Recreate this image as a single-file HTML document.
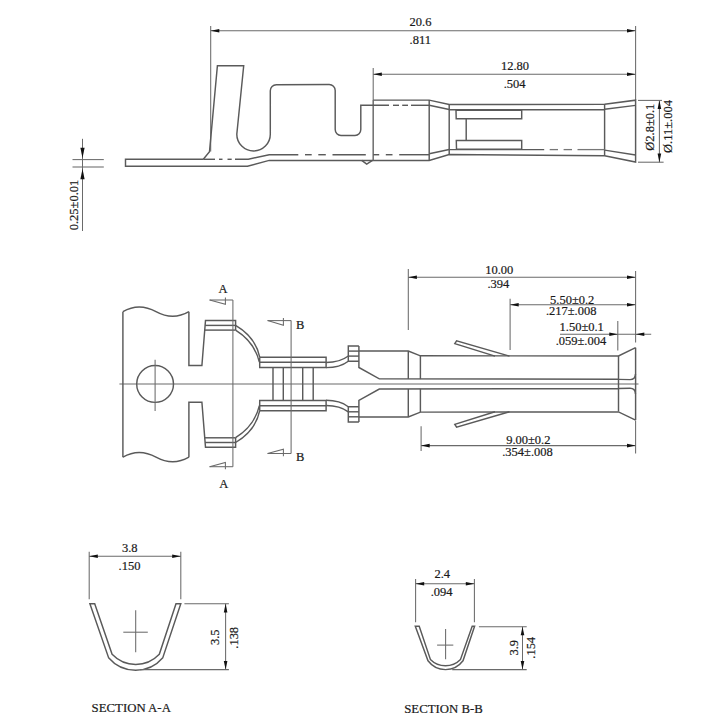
<!DOCTYPE html>
<html><head><meta charset="utf-8"><style>
html,body{margin:0;padding:0;background:#fff;width:720px;height:720px;overflow:hidden}
svg{display:block}
text{font-family:"Liberation Serif",serif;fill:#1a1a1a;stroke:#1a1a1a;stroke-width:0.2}
</style></head><body>
<svg width="720" height="720" viewBox="0 0 720 720">
<rect width="720" height="720" fill="#fff"/>
<line x1="210.7" y1="26" x2="210.7" y2="151.5" stroke="#6a6a6a" stroke-width="1.05" fill="none" />
<line x1="635.6" y1="26" x2="635.6" y2="100" stroke="#6a6a6a" stroke-width="1.05" fill="none" />
<line x1="210.7" y1="30.7" x2="635.6" y2="30.7" stroke="#6a6a6a" stroke-width="1.05" fill="none" />
<path d="M210.70,30.70 L219.30,28.90 L219.30,32.50 Z" fill="#111" stroke="none"/>
<path d="M635.60,30.70 L627.00,28.90 L627.00,32.50 Z" fill="#111" stroke="none"/>
<text transform="translate(420.5,26.3) scale(1,1.05)" text-anchor="middle" font-size="12.5">20.6</text>
<text transform="translate(420.2,44.2) scale(1,1.05)" text-anchor="middle" font-size="12.5">.811</text>
<line x1="373.2" y1="68" x2="373.2" y2="160.5" stroke="#6a6a6a" stroke-width="1.05" fill="none" />
<line x1="373.2" y1="74.2" x2="635.6" y2="74.2" stroke="#6a6a6a" stroke-width="1.05" fill="none" />
<path d="M373.20,74.20 L381.80,72.40 L381.80,76.00 Z" fill="#111" stroke="none"/>
<path d="M635.60,74.20 L627.00,72.40 L627.00,76.00 Z" fill="#111" stroke="none"/>
<text transform="translate(515,70) scale(1,1.05)" text-anchor="middle" font-size="12.5">12.80</text>
<text transform="translate(514.6,88) scale(1,1.05)" text-anchor="middle" font-size="12.5">.504</text>
<line x1="638" y1="100.4" x2="662" y2="100.4" stroke="#6a6a6a" stroke-width="1.05" fill="none" />
<line x1="638" y1="162.2" x2="663.6" y2="162.2" stroke="#6a6a6a" stroke-width="1.05" fill="none" />
<line x1="659.4" y1="100.4" x2="659.4" y2="162.2" stroke="#6a6a6a" stroke-width="1.05" fill="none" />
<path d="M659.40,100.40 L657.60,109.00 L661.20,109.00 Z" fill="#111" stroke="none"/>
<path d="M659.40,162.20 L657.60,153.60 L661.20,153.60 Z" fill="#111" stroke="none"/>
<text transform="translate(650.0,127.2) rotate(-90) translate(0,4.25) scale(1,1.05)" text-anchor="middle" font-size="12.5">&#216;2.8&#177;0.1</text>
<text transform="translate(667.5,126.5) rotate(-90) translate(0,4.25) scale(1,1.05)" text-anchor="middle" font-size="12.5">&#216;.11&#177;.004</text>
<line x1="82.5" y1="138.8" x2="82.5" y2="231" stroke="#6a6a6a" stroke-width="1.05" fill="none" />
<path d="M82.50,158.20 L80.40,147.80 L84.60,147.80 Z" fill="#111" stroke="none"/>
<path d="M82.50,168.80 L80.40,179.20 L84.60,179.20 Z" fill="#111" stroke="none"/>
<line x1="72.5" y1="159.6" x2="103.8" y2="159.6" stroke="#6a6a6a" stroke-width="1.05" fill="none" />
<line x1="72.5" y1="167.0" x2="103.8" y2="167.0" stroke="#6a6a6a" stroke-width="1.05" fill="none" />
<text transform="translate(74.0,205) rotate(-90) translate(0,4.25) scale(1,1.05)" text-anchor="middle" font-size="12.5">0.25&#177;0.01</text>
<path d="M203.3,159.3 L125.5,159.3 L125.5,166.2 L247.5,166.2 L269.2,160.4 L429.2,160.4 L449.2,154.5 L604.6,155.7 L635.6,162 L635.6,100.2 L604.6,104.3 L449.2,104.5 L429.2,100.1 L373.2,100.1" stroke="#5a5a5a" stroke-width="1.45" fill="none"/>
<line x1="373.2" y1="100.1" x2="373.2" y2="160.4" stroke="#6a6a6a" stroke-width="1.05" fill="none" />
<path d="M203.3,159.3 L209.5,151.6 L217.4,65.8 L243.7,65.8 L236.8,134.2 A16.7,16.7 0 0 0 270.3,134.2 L270.3,90.7 A6,6 0 0 1 276.3,84.7 L329.2,84.5 A6,6 0 0 1 335.2,90.5 L335.2,129.6 A5.8,5.8 0 0 0 341,135.4 L355,135.4 A5.8,5.8 0 0 0 360.8,129.6 L360.8,105.3 L389,105.3" stroke="#5a5a5a" stroke-width="1.45" fill="none"/>
<line x1="411" y1="105.3" x2="429.2" y2="105.3" stroke="#5a5a5a" stroke-width="1.45" fill="none" />
<line x1="393" y1="105.3" x2="399" y2="105.3" stroke="#5a5a5a" stroke-width="1.45" fill="none" />
<line x1="402.2" y1="105.3" x2="408" y2="105.3" stroke="#5a5a5a" stroke-width="1.45" fill="none" />
<line x1="203.3" y1="159.3" x2="215" y2="159.3" stroke="#5a5a5a" stroke-width="1.45" fill="none" />
<line x1="219" y1="159.3" x2="222.5" y2="159.3" stroke="#5a5a5a" stroke-width="1.45" fill="none" />
<line x1="227.5" y1="159.3" x2="231.7" y2="159.3" stroke="#5a5a5a" stroke-width="1.45" fill="none" />
<path d="M235,159.3 L248.3,159.3 L269.2,154.7 L298.3,154.7" stroke="#5a5a5a" stroke-width="1.45" fill="none"/>
<line x1="305" y1="154.7" x2="311.7" y2="154.7" stroke="#5a5a5a" stroke-width="1.45" fill="none" />
<line x1="318.3" y1="154.7" x2="325.8" y2="154.7" stroke="#5a5a5a" stroke-width="1.45" fill="none" />
<line x1="332.5" y1="154.7" x2="365.8" y2="154.7" stroke="#5a5a5a" stroke-width="1.45" fill="none" />
<line x1="373.3" y1="154.7" x2="379.2" y2="154.7" stroke="#5a5a5a" stroke-width="1.45" fill="none" />
<line x1="385.8" y1="154.7" x2="392.5" y2="154.7" stroke="#5a5a5a" stroke-width="1.45" fill="none" />
<line x1="399.2" y1="154.7" x2="429.2" y2="154.7" stroke="#5a5a5a" stroke-width="1.45" fill="none" />
<line x1="429.2" y1="100.1" x2="429.2" y2="160.4" stroke="#5a5a5a" stroke-width="1.45" fill="none" />
<line x1="449.2" y1="104.5" x2="449.2" y2="154.5" stroke="#5a5a5a" stroke-width="1.45" fill="none" />
<line x1="604.6" y1="104.3" x2="604.6" y2="155.7" stroke="#5a5a5a" stroke-width="1.45" fill="none" />
<line x1="429.2" y1="105.3" x2="449.2" y2="109.5" stroke="#5a5a5a" stroke-width="1.45" fill="none" />
<line x1="449.2" y1="109.7" x2="604.6" y2="109.7" stroke="#5a5a5a" stroke-width="1.45" fill="none" />
<line x1="604.6" y1="109.2" x2="635.6" y2="105.4" stroke="#5a5a5a" stroke-width="1.45" fill="none" />
<line x1="429.2" y1="153.8" x2="449.2" y2="149.5" stroke="#5a5a5a" stroke-width="1.45" fill="none" />
<line x1="449.2" y1="149.6" x2="544.2" y2="149.6" stroke="#5a5a5a" stroke-width="1.45" fill="none" />
<line x1="549.7" y1="149.6" x2="558" y2="149.6" stroke="#777" stroke-width="1.3" fill="none" />
<line x1="563.6" y1="149.6" x2="572" y2="149.6" stroke="#777" stroke-width="1.3" fill="none" />
<line x1="577.5" y1="149.6" x2="604.6" y2="149.6" stroke="#777" stroke-width="1.3" fill="none" />
<line x1="604.6" y1="150.1" x2="635.6" y2="155" stroke="#5a5a5a" stroke-width="1.45" fill="none" />
<path d="M521.7,110.3 L456.0,110.3 L456.2,118.7 L521.7,118.7 Z" stroke="#5a5a5a" stroke-width="1.45" fill="none"/>
<path d="M521.7,140.5 L456.3,140.5 L456.5,149.2 L521.7,149.2 Z" stroke="#5a5a5a" stroke-width="1.45" fill="none"/>
<line x1="466.2" y1="118.7" x2="466.2" y2="140.5" stroke="#5a5a5a" stroke-width="1.45" fill="none" />
<path d="M361.7,160.4 L366.7,164.2 L372.5,160.4" stroke="#5a5a5a" stroke-width="1.45" fill="none"/>
<line x1="408.3" y1="269" x2="408.3" y2="330" stroke="#6a6a6a" stroke-width="1.05" fill="none" />
<line x1="635.6" y1="271" x2="635.6" y2="342.5" stroke="#6a6a6a" stroke-width="1.05" fill="none" />
<line x1="408.3" y1="277.2" x2="635.6" y2="277.2" stroke="#6a6a6a" stroke-width="1.05" fill="none" />
<path d="M408.30,277.20 L416.90,275.40 L416.90,279.00 Z" fill="#111" stroke="none"/>
<path d="M635.60,277.20 L627.00,275.40 L627.00,279.00 Z" fill="#111" stroke="none"/>
<text transform="translate(499.3,273.7) scale(1,1.05)" text-anchor="middle" font-size="12.5">10.00</text>
<text transform="translate(498.4,288.3) scale(1,1.05)" text-anchor="middle" font-size="12.5">.394</text>
<line x1="510.1" y1="298.7" x2="510.1" y2="350" stroke="#6a6a6a" stroke-width="1.05" fill="none" />
<line x1="510.1" y1="304.8" x2="635.6" y2="304.8" stroke="#6a6a6a" stroke-width="1.05" fill="none" />
<path d="M510.10,304.80 L518.70,303.00 L518.70,306.60 Z" fill="#111" stroke="none"/>
<path d="M635.60,304.80 L627.00,303.00 L627.00,306.60 Z" fill="#111" stroke="none"/>
<text transform="translate(572.2,303.6) scale(1,1.05)" text-anchor="middle" font-size="12.5">5.50&#177;0.2</text>
<text transform="translate(571.2,315.2) scale(1,1.05)" text-anchor="middle" font-size="12.5">.217&#177;.008</text>
<line x1="617.8" y1="321" x2="617.8" y2="350.5" stroke="#6a6a6a" stroke-width="1.05" fill="none" />
<line x1="560" y1="334.2" x2="651.2" y2="334.2" stroke="#6a6a6a" stroke-width="1.05" fill="none" />
<path d="M617.90,334.20 L609.30,332.40 L609.30,336.00 Z" fill="#111" stroke="none"/>
<path d="M635.70,334.20 L644.30,332.40 L644.30,336.00 Z" fill="#111" stroke="none"/>
<text transform="translate(581.7,331.2) scale(1,1.05)" text-anchor="middle" font-size="12.5">1.50&#177;0.1</text>
<text transform="translate(580.9,344.8) scale(1,1.05)" text-anchor="middle" font-size="12.5">.059&#177;.004</text>
<line x1="421.1" y1="426.2" x2="421.1" y2="451.1" stroke="#6a6a6a" stroke-width="1.05" fill="none" />
<line x1="635.6" y1="420.4" x2="635.6" y2="453.5" stroke="#6a6a6a" stroke-width="1.05" fill="none" />
<line x1="421.1" y1="445.6" x2="635.6" y2="445.6" stroke="#6a6a6a" stroke-width="1.05" fill="none" />
<path d="M421.10,445.60 L429.70,443.80 L429.70,447.40 Z" fill="#111" stroke="none"/>
<path d="M635.60,445.60 L627.00,443.80 L627.00,447.40 Z" fill="#111" stroke="none"/>
<text transform="translate(528.3,443.8) scale(1,1.05)" text-anchor="middle" font-size="12.5">9.00&#177;0.2</text>
<text transform="translate(527.5,455.6) scale(1,1.05)" text-anchor="middle" font-size="12.5">.354&#177;.008</text>
<line x1="119.4" y1="383.95" x2="638.5" y2="383.95" stroke="#6a6a6a" stroke-width="1.05" fill="none" />
<path d="M122.9,311.7 Q139,302.5 156,311.7 T188.9,311.7" stroke="#5a5a5a" stroke-width="1.45" fill="none"/>
<path d="M122.9,457.2 Q139,448.0 156,457.2 T188.9,457.2" stroke="#5a5a5a" stroke-width="1.45" fill="none"/>
<line x1="122.9" y1="311.7" x2="122.9" y2="457.2" stroke="#5a5a5a" stroke-width="1.45" fill="none" />
<path d="M188.9,311.7 L188.9,365.5 L201.9,365.5 L205.5,320.4 L235.6,320.4 L235.6,330.1" stroke="#5a5a5a" stroke-width="1.45" fill="none"/>
<path d="M188.9,457.2 L188.9,402.2 L201.9,402.2 L205.5,447.3 L235.6,447.3 L235.6,437.6" stroke="#5a5a5a" stroke-width="1.45" fill="none"/>
<circle cx="155.1" cy="383.95" r="18.4" stroke="#5a5a5a" stroke-width="1.45" fill="none"/>
<line x1="155.1" y1="359.7" x2="155.1" y2="411.1" stroke="#6a6a6a" stroke-width="1.05" fill="none" />
<line x1="205.1" y1="325.4" x2="235.6" y2="325.4" stroke="#5a5a5a" stroke-width="1.45" fill="none" />
<line x1="204.7" y1="330.1" x2="235.6" y2="330.1" stroke="#5a5a5a" stroke-width="1.45" fill="none" />
<path d="M235.6,325.4 Q255.7,337.3 259.7,357.2" stroke="#5a5a5a" stroke-width="1.45" fill="none"/>
<path d="M235.6,330.2 Q254.5,342 259.4,362.2" stroke="#5a5a5a" stroke-width="1.45" fill="none"/>
<path d="M259.7,357.2 L326.1,357.2 L326.1,367.4 L259.7,367.4 L259.7,357.2" stroke="#5a5a5a" stroke-width="1.45" fill="none"/>
<line x1="259.7" y1="362.2" x2="326.1" y2="362.2" stroke="#5a5a5a" stroke-width="1.45" fill="none" />
<path d="M326.1,362.4 Q340,362.4 348.3,356" stroke="#5a5a5a" stroke-width="1.45" fill="none"/>
<path d="M326.1,367.6 Q340,367.6 348.3,361.2" stroke="#5a5a5a" stroke-width="1.45" fill="none"/>
<path d="M358.9,346 L348.3,346 L348.3,361.2 L358.9,361.2" stroke="#5a5a5a" stroke-width="1.45" fill="none"/>
<line x1="348.3" y1="351.1" x2="358.9" y2="351.1" stroke="#5a5a5a" stroke-width="1.45" fill="none" />
<line x1="348.3" y1="356.1" x2="358.9" y2="356.1" stroke="#5a5a5a" stroke-width="1.45" fill="none" />
<path d="M358.9,346 L358.9,367.5 L379.3,378.9 L618.5,379.2" stroke="#5a5a5a" stroke-width="1.45" fill="none"/>
<path d="M618.5,379.4 L630,379.6 Q635.3,379.6 635.5,374" stroke="#5a5a5a" stroke-width="1.45" fill="none"/>
<path d="M358.9,351.0 L408.3,351.0 L420.4,355.8 L618.5,356.0 L635.6,347.7" stroke="#5a5a5a" stroke-width="1.45" fill="none"/>
<line x1="408.3" y1="351" x2="408.3" y2="378.9" stroke="#5a5a5a" stroke-width="1.45" fill="none" />
<line x1="420.4" y1="355.8" x2="420.4" y2="379.1" stroke="#5a5a5a" stroke-width="1.45" fill="none" />
<path d="M509.5,356.1 L456.6,340.8 L454.8,343.6 L495,356.1" stroke="#5a5a5a" stroke-width="1.45" fill="none"/>
<line x1="205.1" y1="442.5" x2="235.6" y2="442.5" stroke="#5a5a5a" stroke-width="1.45" fill="none" />
<line x1="204.7" y1="437.8" x2="235.6" y2="437.8" stroke="#5a5a5a" stroke-width="1.45" fill="none" />
<path d="M235.6,442.5 Q255.7,430.6 259.7,410.7" stroke="#5a5a5a" stroke-width="1.45" fill="none"/>
<path d="M235.6,437.7 Q254.5,425.9 259.4,405.7" stroke="#5a5a5a" stroke-width="1.45" fill="none"/>
<path d="M259.7,410.7 L326.1,410.7 L326.1,400.5 L259.7,400.5 L259.7,410.7" stroke="#5a5a5a" stroke-width="1.45" fill="none"/>
<line x1="259.7" y1="405.7" x2="326.1" y2="405.7" stroke="#5a5a5a" stroke-width="1.45" fill="none" />
<path d="M326.1,405.5 Q340,405.5 348.3,411.9" stroke="#5a5a5a" stroke-width="1.45" fill="none"/>
<path d="M326.1,400.3 Q340,400.3 348.3,406.7" stroke="#5a5a5a" stroke-width="1.45" fill="none"/>
<path d="M358.9,421.9 L348.3,421.9 L348.3,406.7 L358.9,406.7" stroke="#5a5a5a" stroke-width="1.45" fill="none"/>
<line x1="348.3" y1="416.8" x2="358.9" y2="416.8" stroke="#5a5a5a" stroke-width="1.45" fill="none" />
<line x1="348.3" y1="411.8" x2="358.9" y2="411.8" stroke="#5a5a5a" stroke-width="1.45" fill="none" />
<path d="M358.9,421.9 L358.9,400.4 L379.3,389.0 L618.5,388.7" stroke="#5a5a5a" stroke-width="1.45" fill="none"/>
<path d="M618.5,388.5 L630,388.3 Q635.3,388.3 635.5,393.9" stroke="#5a5a5a" stroke-width="1.45" fill="none"/>
<path d="M358.9,416.9 L408.3,416.9 L420.4,412.1 L618.5,411.9 L635.6,420.2" stroke="#5a5a5a" stroke-width="1.45" fill="none"/>
<line x1="408.3" y1="416.9" x2="408.3" y2="389.0" stroke="#5a5a5a" stroke-width="1.45" fill="none" />
<line x1="420.4" y1="412.1" x2="420.4" y2="388.8" stroke="#5a5a5a" stroke-width="1.45" fill="none" />
<path d="M509.5,411.8 L456.6,427.1 L454.8,424.3 L495,411.8" stroke="#5a5a5a" stroke-width="1.45" fill="none"/>
<line x1="618.5" y1="356" x2="618.5" y2="411.5" stroke="#5a5a5a" stroke-width="1.45" fill="none" />
<line x1="635.6" y1="347.7" x2="635.6" y2="420" stroke="#5a5a5a" stroke-width="1.45" fill="none" />
<line x1="273" y1="367.4" x2="273" y2="400.1" stroke="#5a5a5a" stroke-width="1.45" fill="none" />
<line x1="283.3" y1="367.4" x2="283.3" y2="400.1" stroke="#5a5a5a" stroke-width="1.45" fill="none" />
<line x1="302.7" y1="367.4" x2="302.7" y2="400.1" stroke="#5a5a5a" stroke-width="1.45" fill="none" />
<line x1="313.2" y1="367.4" x2="313.2" y2="400.1" stroke="#5a5a5a" stroke-width="1.45" fill="none" />
<line x1="232.9" y1="300" x2="232.9" y2="466.7" stroke="#6a6a6a" stroke-width="1.05" fill="none" />
<line x1="209.6" y1="300" x2="232.9" y2="300" stroke="#6a6a6a" stroke-width="1.05" fill="none" />
<path d="M209.6,300 L225.4,304.2 L225.4,297.5" stroke="#6a6a6a" stroke-width="1.05" fill="none"/>
<line x1="209.6" y1="466.7" x2="232.9" y2="466.7" stroke="#6a6a6a" stroke-width="1.05" fill="none" />
<path d="M209.6,466.7 L225.4,462.5 L225.4,469.2" stroke="#6a6a6a" stroke-width="1.05" fill="none"/>
<text transform="translate(223,293) scale(1,1.0)" text-anchor="middle" font-size="12.5">A</text>
<text transform="translate(223.8,488) scale(1,1.0)" text-anchor="middle" font-size="12.5">A</text>
<line x1="291.1" y1="320.6" x2="291.1" y2="453.5" stroke="#6a6a6a" stroke-width="1.05" fill="none" />
<line x1="267.6" y1="320.6" x2="291.1" y2="320.6" stroke="#6a6a6a" stroke-width="1.05" fill="none" />
<path d="M267.6,320.6 L283.4,325.2 L283.4,318" stroke="#6a6a6a" stroke-width="1.05" fill="none"/>
<line x1="267.6" y1="453.5" x2="291.1" y2="453.5" stroke="#6a6a6a" stroke-width="1.05" fill="none" />
<path d="M267.6,453.5 L283.4,449.2 L283.4,456.3" stroke="#6a6a6a" stroke-width="1.05" fill="none"/>
<text transform="translate(300.2,328.5) scale(1,1.0)" text-anchor="middle" font-size="12.5">B</text>
<text transform="translate(300.2,460.8) scale(1,1.0)" text-anchor="middle" font-size="12.5">B</text>
<line x1="89.2" y1="551.7" x2="89.2" y2="599.2" stroke="#6a6a6a" stroke-width="1.05" fill="none" />
<line x1="180.8" y1="551.7" x2="180.8" y2="599.2" stroke="#6a6a6a" stroke-width="1.05" fill="none" />
<line x1="89.2" y1="556.3" x2="180.8" y2="556.3" stroke="#6a6a6a" stroke-width="1.05" fill="none" />
<path d="M89.20,556.30 L97.80,554.50 L97.80,558.10 Z" fill="#111" stroke="none"/>
<path d="M180.80,556.30 L172.20,554.50 L172.20,558.10 Z" fill="#111" stroke="none"/>
<text transform="translate(129.8,551.7) scale(1,1.05)" text-anchor="middle" font-size="12.5">3.8</text>
<text transform="translate(129.5,570) scale(1,1.05)" text-anchor="middle" font-size="12.5">.150</text>
<path d="M89.9,603.8 L108.6,657.7 A35.6,35.6 0 0 0 162.8,657.7 L180.8,603.8 L176,603.8 L159.3,654.25 A32.5,32.5 0 0 1 112.1,654.25 L94.7,603.8 Z" stroke="#5a5a5a" stroke-width="1.45" fill="none"/>
<line x1="123.3" y1="632.2" x2="147.8" y2="632.2" stroke="#6a6a6a" stroke-width="1.05" fill="none" />
<line x1="135.7" y1="610.3" x2="135.7" y2="652.2" stroke="#6a6a6a" stroke-width="1.05" fill="none" />
<line x1="184.4" y1="603.8" x2="228.9" y2="603.8" stroke="#6a6a6a" stroke-width="1.05" fill="none" />
<line x1="140" y1="669.6" x2="228.9" y2="669.6" stroke="#6a6a6a" stroke-width="1.05" fill="none" />
<line x1="225.6" y1="603.8" x2="225.6" y2="669.6" stroke="#6a6a6a" stroke-width="1.05" fill="none" />
<path d="M225.60,603.80 L223.80,612.40 L227.40,612.40 Z" fill="#111" stroke="none"/>
<path d="M225.60,669.60 L223.80,661.00 L227.40,661.00 Z" fill="#111" stroke="none"/>
<text transform="translate(214.6,637.2) rotate(-90) translate(0,4.25) scale(1,1.05)" text-anchor="middle" font-size="12.5">3.5</text>
<text transform="translate(233.4,637.8) rotate(-90) translate(0,4.25) scale(1,1.05)" text-anchor="middle" font-size="12.5">.138</text>
<text transform="translate(91.6,712.2) scale(1,1.0)" text-anchor="start" font-size="12.8">SECTION A-A</text>
<line x1="415.6" y1="578.9" x2="415.6" y2="622.2" stroke="#6a6a6a" stroke-width="1.05" fill="none" />
<line x1="474.4" y1="578.9" x2="474.4" y2="622.2" stroke="#6a6a6a" stroke-width="1.05" fill="none" />
<line x1="415.6" y1="583.8" x2="474.4" y2="583.8" stroke="#6a6a6a" stroke-width="1.05" fill="none" />
<path d="M415.60,583.80 L424.20,582.00 L424.20,585.60 Z" fill="#111" stroke="none"/>
<path d="M474.40,583.80 L465.80,582.00 L465.80,585.60 Z" fill="#111" stroke="none"/>
<text transform="translate(442.2,577.8) scale(1,1.05)" text-anchor="middle" font-size="12.5">2.4</text>
<text transform="translate(441.6,595.6) scale(1,1.05)" text-anchor="middle" font-size="12.5">.094</text>
<path d="M415.3,626.3 L428,660.8 A21.8,21.8 0 0 0 463,660.8 L474.6,626.3 L472.2,626.3 L460.5,659.4 A21.1,21.1 0 0 1 430.4,659.4 L419.2,626.3 Z" stroke="#5a5a5a" stroke-width="1.45" fill="none"/>
<line x1="437.1" y1="645.1" x2="453.3" y2="645.1" stroke="#6a6a6a" stroke-width="1.05" fill="none" />
<line x1="445.6" y1="628.9" x2="445.6" y2="659.3" stroke="#6a6a6a" stroke-width="1.05" fill="none" />
<line x1="478.9" y1="626.7" x2="526.7" y2="626.7" stroke="#6a6a6a" stroke-width="1.05" fill="none" />
<line x1="452.2" y1="669.6" x2="526.7" y2="669.6" stroke="#6a6a6a" stroke-width="1.05" fill="none" />
<line x1="522.5" y1="626.7" x2="522.5" y2="669.6" stroke="#6a6a6a" stroke-width="1.05" fill="none" />
<path d="M522.50,626.70 L520.70,635.30 L524.30,635.30 Z" fill="#111" stroke="none"/>
<path d="M522.50,669.60 L520.70,661.00 L524.30,661.00 Z" fill="#111" stroke="none"/>
<text transform="translate(513.6,647.8) rotate(-90) translate(0,4.25) scale(1,1.05)" text-anchor="middle" font-size="12.5">3.9</text>
<text transform="translate(530.6,647.8) rotate(-90) translate(0,4.25) scale(1,1.05)" text-anchor="middle" font-size="12.5">.154</text>
<text transform="translate(404.2,712.5) scale(1,1.0)" text-anchor="start" font-size="12.8">SECTION B-B</text>
</svg>
</body></html>
